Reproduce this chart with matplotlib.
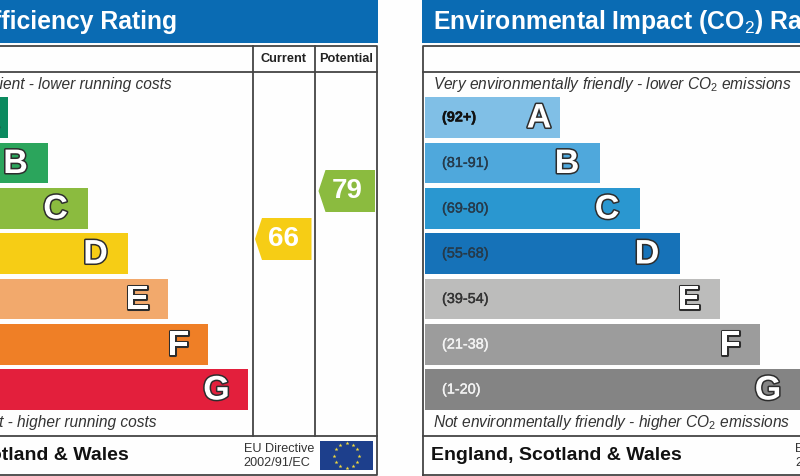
import numpy as np
import matplotlib
matplotlib.use('Agg')
import matplotlib.pyplot as plt
import matplotlib.patheffects as pe
from matplotlib.patches import Rectangle, Polygon

plt.rcParams['font.family'] = ['Liberation Sans', 'DejaVu Sans']
plt.rcParams['mathtext.fontset'] = 'custom'
plt.rcParams['mathtext.rm'] = 'Liberation Sans'
plt.rcParams['mathtext.it'] = 'Liberation Sans:italic'
plt.rcParams['mathtext.bf'] = 'Liberation Sans:bold'

# data
bands = ['A', 'B', 'C', 'D', 'E', 'F', 'G']
ranges = ['(92+)', '(81-91)', '(69-80)', '(55-68)', '(39-54)', '(21-38)', '(1-20)']
band_widths = [135, 175, 215, 255, 295, 335, 375]
letter_insets = [21, 33, 33, 33, 31, 30, 32]
energy_colors = ['#0b8a5f', '#2ba55c', '#8bbb3f', '#f6cd15', '#f2a96c', '#ef7f26', '#e31f3c']
co2_colors = ['#80bfe6', '#4fa8dc', '#2a97d0', '#1672b8', '#bcbcbb', '#9c9c9c', '#848484']
range_text_colors = ['#111111', '#263a4a', '#263a4a', '#263a4a', '#333333', '#f4f4f4', '#f4f4f4']
current_score = 66
potential_score = 79
score_colors = {'current': '#f6cd15', 'potential': '#8bbb3f'}

BLUE = '#0a6bb3'
LINE = '#444444'
TXT = '#333333'

fig = plt.figure(figsize=(8, 4.76), dpi=100, facecolor='#fefefe')
ax = fig.add_axes([0, 0, 1, 1])
ax.set_xlim(0, 800)
ax.set_ylim(476, 0)
ax.axis('off')

row_tops = [97, 142.5, 188, 233, 278.5, 324, 369]
band_left = {-10: -127, 423: 424.5}


def draw_panel(left, right, colors, title, title_x, title_ha):
    # banner, frame and rows
    ax.add_patch(Rectangle((left - 1, 0), right - left + 1.5, 43, color=BLUE, lw=0))
    ax.text(title_x, 21.5, title, color='white', fontsize=17.8, fontweight='bold',
            ha=title_ha, va='center')
    ax.plot([left, left, right, right, left], [475, 46, 46, 475, 475], color=LINE, lw=1.3)
    ax.plot([left, right], [71.5, 71.5], color=LINE, lw=1.3)
    ax.plot([left, right], [435.5, 435.5], color=LINE, lw=1.3)
    # bars come from the widths
    ax.barh(row_tops, band_widths, height=40.5, left=band_left[left], align='edge',
            color=colors, lw=0)
    for i, b in enumerate(bands):
        ax.text(band_left[left] + band_widths[i] - letter_insets[i] + 0.5, row_tops[i] + 22, b,
                fontsize=24.5, fontweight='bold', color='white', ha='center', va='center',
                path_effects=[pe.withStroke(linewidth=2.2, foreground='#2d2d2d')])


draw_panel(-10, 377, energy_colors, 'Energy Efficiency Rating', 177, 'right')
draw_panel(423, 830, co2_colors, 'Environmental Impact (CO$_2$) Rating', 433, 'left')

# right panel range labels
for i, r in enumerate(ranges):
    ax.text(442, row_tops[i] + 20.5, r, fontsize=10.4, color=range_text_colors[i],
            fontweight='bold' if i == 0 else 'normal', va='center', ha='left',
            path_effects=[pe.withStroke(linewidth=0.25, foreground=range_text_colors[i])])

# italic captions
ax.text(172, 85, 'Very energy efficient - lower running costs', fontsize=11.2, style='italic',
        color=TXT, ha='right', va='center')
ax.text(157, 423, 'Not energy efficient - higher running costs', fontsize=11.2, style='italic',
        color=TXT, ha='right', va='center')
ax.text(433, 85, 'Very environmentally friendly - lower CO$_2$ emissions', fontsize=11.2,
        style='italic', color=TXT, ha='left', va='center')
ax.text(433, 423, 'Not environmentally friendly - higher CO$_2$ emissions', fontsize=11.2,
        style='italic', color=TXT, ha='left', va='center')

# footer
ax.text(128.5, 455, 'England, Scotland & Wales', fontsize=14, fontweight='bold', color='#111111',
        ha='right', va='center')
ax.text(431, 455, 'England, Scotland & Wales', fontsize=14, fontweight='bold', color='#111111',
        ha='left', va='center')
for x in (243.5, 795):
    ax.text(x, 449, 'EU Directive', fontsize=9.1, color=TXT, ha='left', va='center')
    ax.text(x, 463.5, '2002/91/EC', fontsize=9.1, color=TXT, ha='left', va='center')

# flag
ax.add_patch(Rectangle((320, 441), 53, 29, color='#1d3f8c', lw=0))
angles = np.arange(12) * np.pi / 6
ax.scatter(346.5 + 12.5 * np.cos(angles), 455.5 + 12.5 * np.sin(angles), marker='*', s=9,
           color='#f4dc3c', lw=0, zorder=3)

# column heads
ax.plot([253, 253], [46, 435.5], color=LINE, lw=1.3)
ax.plot([315, 315], [46, 435.5], color=LINE, lw=1.3)
ax.text(283.5, 59, 'Current', fontsize=9.2, fontweight='bold', color='#222222', ha='center', va='center')
ax.text(346, 59, 'Potential', fontsize=9.2, fontweight='bold', color='#222222', ha='center', va='center')


def score_y(v):
    # position in the column follows the score
    return 239 - (v - current_score) * 48 / 13


def score_tag(x0, x1, score, color):
    y = score_y(score)
    h = 21
    ax.add_patch(Polygon([(x0, y), (x0 + 7, y - h), (x1, y - h), (x1, y + h), (x0 + 7, y + h)],
                         closed=True, color=color, lw=0))
    ax.text((x0 + x1) / 2, y + 0.5, str(score), fontsize=20, fontweight='bold', color='white',
            ha='center', va='center')


score_tag(255, 311.5, current_score, score_colors['current'])
score_tag(318.5, 375, potential_score, score_colors['potential'])

fig.savefig('out.png', dpi=100, facecolor=fig.get_facecolor())
